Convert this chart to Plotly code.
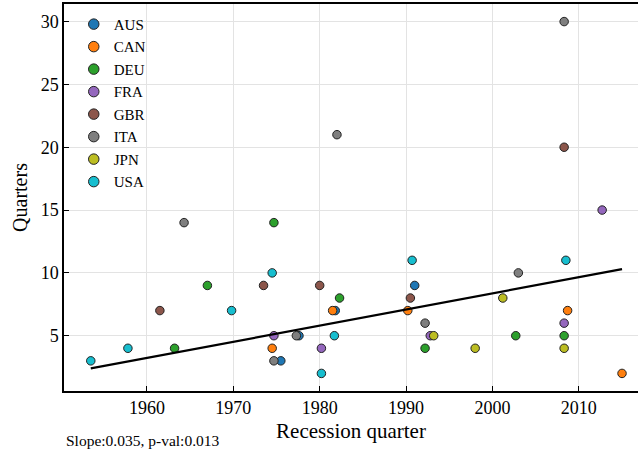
import plotly.graph_objects as go

countries = ["AUS", "CAN", "DEU", "FRA", "GBR", "ITA", "JPN", "USA"]
colors = ["#1f77b4", "#ff7f0e", "#2ca02c", "#9467bd", "#8c564b", "#7f7f7f", "#bcbd22", "#17becf"]

aus_x = [1975.5, 1977.6, 1981.8, 1991.0]
aus_y = [3, 5, 7, 9]
can_x = [1974.5, 1981.5, 1990.2, 2008.7, 2015.0]
can_y = [4, 7, 7, 7, 2]
deu_x = [1963.2, 1967.0, 1974.7, 1982.3, 1992.2, 2002.7, 2008.3]
deu_y = [4, 9, 14, 8, 4, 5, 5]
fra_x = [1974.7, 1980.2, 1992.8, 2008.3, 2012.7]
fra_y = [5, 4, 5, 6, 15]
gbr_x = [1961.5, 1973.5, 1980.0, 1990.5, 2008.3]
gbr_y = [7, 9, 9, 8, 20]
ita_x = [1964.3, 1974.7, 1977.3, 1982.0, 1992.2, 2003.0, 2008.3]
ita_y = [14, 3, 5, 21, 6, 10, 30]
jpn_x = [1993.2, 1998.0, 2001.2, 2008.3]
jpn_y = [5, 4, 8, 4]
usa_x = [1953.5, 1957.8, 1969.8, 1974.5, 1980.2, 1981.7, 1990.7, 2008.5]
usa_y = [3, 4, 7, 10, 2, 5, 11, 11]

# fitted trend line as shown in the chart (endpoints)
trend_x = [1953.5, 2015.0]
trend_y = [2.4, 10.3]

xs = [aus_x, can_x, deu_x, fra_x, gbr_x, ita_x, jpn_x, usa_x]
ys = [aus_y, can_y, deu_y, fra_y, gbr_y, ita_y, jpn_y, usa_y]

x_ticks = [1960, 1970, 1980, 1990, 2000, 2010]
y_ticks = [5, 10, 15, 20, 25, 30]
annotation_text = "Slope:0.035, p-val:0.013"

FONT = "Liberation Serif, Times New Roman, serif"

fig = go.Figure()
for name, col, x, y in zip(countries, colors, xs, ys):
    fig.add_trace(go.Scatter(
        x=x, y=y, mode="markers", name=name, showlegend=False,
        marker=dict(color=col, size=8.5, line=dict(color="#222222", width=1)),
    ))

fig.add_trace(go.Scatter(x=trend_x, y=trend_y, mode="lines", showlegend=False,
                         line=dict(color="black", width=2.2)))

# legend entries (larger markers, as in the reference legend)
for name, col in zip(countries, colors):
    fig.add_trace(go.Scatter(
        x=[None], y=[None], mode="markers", name=name,
        marker=dict(color=col, size=10.5, line=dict(color="#222222", width=1)),
    ))

fig.add_annotation(text=annotation_text, xref="paper", yref="paper",
                   x=0.0, y=-0.100, xanchor="left", yanchor="top", showarrow=False,
                   font=dict(family=FONT, size=15.5, color="black"))

fig.update_layout(
    width=638, height=450,
    margin=dict(l=64, r=0, t=4, b=59),
    paper_bgcolor="white", plot_bgcolor="white",
    font=dict(family=FONT, color="black"),
    legend=dict(x=0.017, y=0.99, xanchor="left", yanchor="top",
                font=dict(family=FONT, size=15), bgcolor="rgba(0,0,0,0)",
                itemwidth=30, tracegroupgap=0),
    xaxis=dict(
        range=[1950.4, 2016.85], tickvals=x_ticks, ticks="inside", ticklen=5,
        tickcolor="black", showline=True, linecolor="black", linewidth=1.5,
        mirror=True, showgrid=True, gridcolor="#e3e3e3", gridwidth=1,
        zeroline=False, tickfont=dict(size=18),
        title=dict(text="Recession quarter", font=dict(size=21), standoff=6),
    ),
    yaxis=dict(
        range=[0.6, 31.4], tickvals=y_ticks, ticks="inside", ticklen=5,
        tickcolor="black", showline=True, linecolor="black", linewidth=1.5,
        mirror=False, showgrid=True, gridcolor="#e3e3e3", gridwidth=1,
        zeroline=False, tickfont=dict(size=18),
        title=dict(text="Quarters", font=dict(size=20), standoff=8),
    ),
)

fig.write_html("out.html")
